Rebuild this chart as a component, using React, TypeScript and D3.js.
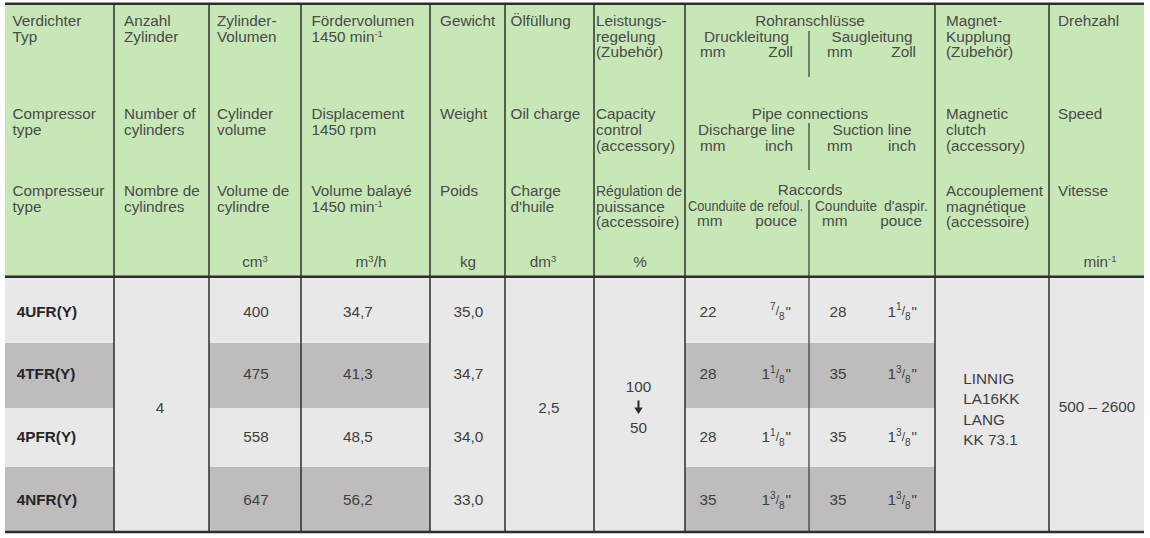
import React from "react";
import * as d3 from "d3";

// ---------- data ----------
const models = ["4UFR(Y)", "4TFR(Y)", "4PFR(Y)", "4NFR(Y)"];
const cylinders = "4";
const cylVolume = ["400", "475", "558", "647"];
const displacement = ["34,7", "41,3", "48,5", "56,2"];
const weight = ["35,0", "34,7", "34,0", "33,0"];
const oilCharge = "2,5";
const capacityFrom = "100";
const capacityTo = "50";
const dischargeMm = ["22", "28", "28", "35"];
const dischargeInch: [string, string, string][] = [["", "7", "8"], ["1", "1", "8"], ["1", "1", "8"], ["1", "3", "8"]];
const suctionMm = ["28", "35", "35", "35"];
const suctionInch: [string, string, string][] = [["1", "1", "8"], ["1", "3", "8"], ["1", "3", "8"], ["1", "3", "8"]];
const clutch = ["LINNIG", "LA16KK", "LANG", "KK 73.1"];
const speed = "500 – 2600";

// ---------- layout / style ----------
const W = 1150, H = 538;
const LEFT = 5, RIGHT = 1144;
const TOP = 3.7, HEAD_BOTTOM = 276.7, BOTTOM = 532;
const colLines = [114, 209, 301, 430, 505, 594, 685, 935, 1049];
const rowEdges = [278, 343, 408, 467, 532];
const stripedCols: [number, number][] = [[LEFT, 114], [209, 301], [301, 430], [685, 935]];
const GREEN = "#c7e7b7";
const LIGHT = "#e8e8e8";
const DARK = "#bebcbc";
const LINE = "#2e2e2e";
const HEAD_TXT = "#4a4a4a";
const BODY_TXT = "#3e3e3e";
const FONT = "'Liberation Sans', Arial, Helvetica, sans-serif";
const FS = 15.3;
const LH = 15.65;
const blockY = [26, 119.3, 196];
const unitY = 266.7;

const rowY = d3.scalePoint<string>().domain(models).range([316.7, 505]);
const midY = 412.7;

type Line = string | { t: string; w?: number; sup?: string; after?: string };

const headerCols: { x: number; blocks: Line[][] }[] = [
  { x: 12.5, blocks: [["Verdichter", "Typ"], ["Compressor", "type"], ["Compresseur", "type"]] },
  { x: 124, blocks: [["Anzahl", "Zylinder"], ["Number of", "cylinders"], ["Nombre de", "cylindres"]] },
  { x: 217, blocks: [["Zylinder-", "Volumen"], ["Cylinder", "volume"], ["Volume de", "cylindre"]] },
  { x: 311.5, blocks: [["Fördervolumen", { t: "1450 min", sup: "-1" }], ["Displacement", "1450 rpm"], ["Volume balayé", { t: "1450 min", sup: "-1" }]] },
  { x: 440, blocks: [["Gewicht"], ["Weight"], ["Poids"]] },
  { x: 510.5, blocks: [["Ölfüllung"], ["Oil charge"], ["Charge", "d'huile"]] },
  { x: 596, blocks: [["Leistungs-", "regelung", "(Zubehör)"], ["Capacity", "control", "(accessory)"], [{ t: "Régulation de", w: 86 }, "puissance", "(accessoire)"]] },
  { x: 946, blocks: [["Magnet-", "Kupplung", "(Zubehör)"], ["Magnetic", "clutch", "(accessory)"], ["Accouplement", "magnétique", "(accessoire)"]] },
  { x: 1058, blocks: [["Drehzahl"], ["Speed"], ["Vitesse"]] },
];

const units: { x: number; t: string; sup?: string; after?: string }[] = [
  { x: 255, t: "cm", sup: "3" },
  { x: 371, t: "m", sup: "3", after: "/h" },
  { x: 468, t: "kg" },
  { x: 543, t: "dm", sup: "3" },
  { x: 640, t: "%" },
  { x: 1100, t: "min", sup: "-1" },
];

const pipeBlocks = [
  { title: "Rohranschlüsse", left: "Druckleitung", right: "Saugleitung", mm: "mm", inch: "Zoll", cond: false },
  { title: "Pipe connections", left: "Discharge line", right: "Suction line", mm: "mm", inch: "inch", cond: false },
  { title: "Raccords", left: "Counduite de refoul.", right: "Counduite", right2: "d'aspir.", mm: "mm", inch: "pouce", cond: true },
];

function Sup({ t, sup, after }: { t: string; sup?: string; after?: string }) {
  return (
    <>
      <tspan>{t}</tspan>
      {sup && <tspan fontSize={9.5} dy={-5}>{sup}</tspan>}
      {sup && after && <tspan dy={5} fontSize={FS}>{after}</tspan>}
    </>
  );
}

function Frac({ x, y, f }: { x: number; y: number; f: [string, string, string] }) {
  return (
    <text x={x} y={y} textAnchor="end" fontSize={FS} fill={BODY_TXT}>
      {f[0] && <tspan>{f[0]}</tspan>}
      <tspan fontSize={10} dy={-6.5}>{f[1]}</tspan>
      <tspan fontSize={12} dy={5}>/</tspan>
      <tspan fontSize={10} dy={5}>{f[2]}</tspan>
      <tspan fontSize={FS} dy={-3.5} dx={1}>"</tspan>
    </text>
  );
}

export default function App() {
  const rows = models.map((m, i) => ({ i, y0: rowEdges[i], y1: rowEdges[i + 1] }));
  return (
    <svg width={W} height={H} style={{ position: "absolute", left: 0, top: 0, background: "#fff" }} fontFamily={FONT}>
      {/* header background */}
      <rect x={LEFT} y={TOP} width={RIGHT - LEFT} height={HEAD_BOTTOM - TOP} fill={GREEN} />
      {/* body background */}
      <rect x={LEFT} y={HEAD_BOTTOM} width={RIGHT - LEFT} height={BOTTOM - HEAD_BOTTOM} fill={LIGHT} />
      {rows.filter((r) => r.i % 2 === 1).map((r) =>
        stripedCols.map(([a, b], k) => (
          <rect key={`${r.i}-${k}`} x={a} y={r.y0} width={b - a} height={r.y1 - r.y0} fill={DARK} />
        ))
      )}

      {/* header text */}
      <g fontSize={FS} fill={HEAD_TXT}>
        {headerCols.map((c, ci) =>
          c.blocks.map((b, bi) =>
            b.map((ln, li) => {
              const y = blockY[bi] + li * LH;
              if (typeof ln === "string") return <text key={`${ci}-${bi}-${li}`} x={c.x} y={y}>{ln}</text>;
              return (
                <text key={`${ci}-${bi}-${li}`} x={c.x} y={y}
                  textLength={ln.w} lengthAdjust={ln.w ? "spacingAndGlyphs" : undefined}>
                  {ln.sup ? <Sup t={ln.t} sup={ln.sup} after={ln.after} /> : ln.t}
                </text>
              );
            })
          )
        )}
        {units.map((u, i) => (
          <text key={i} x={u.x} y={unitY} textAnchor="middle"><Sup t={u.t} sup={u.sup} after={u.after} /></text>
        ))}
        {pipeBlocks.map((p, i) => {
          const y = blockY[i] + (i === 2 ? -1 : 0);
          return (
            <g key={i}>
              <text x={810} y={y} textAnchor="middle">{p.title}</text>
              {p.cond ? (
                <>
                  <text x={688} y={y + LH} textLength={115} lengthAdjust="spacingAndGlyphs">{p.left}</text>
                  <text x={815} y={y + LH} textLength={62} lengthAdjust="spacingAndGlyphs">{p.right}</text>
                  <text x={928} y={y + LH} textAnchor="end" textLength={44} lengthAdjust="spacingAndGlyphs">{p.right2}</text>
                </>
              ) : (
                <>
                  <text x={746.5} y={y + LH} textAnchor="middle">{p.left}</text>
                  <text x={872} y={y + LH} textAnchor="middle">{p.right}</text>
                </>
              )}
              <text x={i === 2 ? 697 : 700} y={y + 2 * LH}>{p.mm}</text>
              <text x={i === 2 ? 797 : 793} y={y + 2 * LH} textAnchor="end">{p.inch}</text>
              <text x={i === 2 ? 822 : 827} y={y + 2 * LH}>{p.mm}</text>
              <text x={i === 2 ? 922 : 916} y={y + 2 * LH} textAnchor="end">{p.inch}</text>
            </g>
          );
        })}
      </g>

      {/* header pipe dividers */}
      <g stroke="#444" strokeWidth={1.3}>
        <line x1={809} x2={809} y1={31} y2={77} />
        <line x1={809} x2={809} y1={123} y2={170} />
        <line x1={809} x2={809} y1={200} y2={BOTTOM} />
      </g>

      {/* body text */}
      <g fontSize={FS} fill={BODY_TXT}>
        {models.map((m, i) => {
          const y = rowY(m)!;
          return (
            <g key={m}>
              <text x={16.7} y={y} fontWeight="bold" fill="#262626">{m}</text>
              <text x={256} y={y} textAnchor="middle">{cylVolume[i]}</text>
              <text x={358} y={y} textAnchor="middle">{displacement[i]}</text>
              <text x={468.5} y={y} textAnchor="middle">{weight[i]}</text>
              <text x={708} y={y} textAnchor="middle">{dischargeMm[i]}</text>
              <Frac x={791} y={y} f={dischargeInch[i]} />
              <text x={838} y={y} textAnchor="middle">{suctionMm[i]}</text>
              <Frac x={917} y={y} f={suctionInch[i]} />
            </g>
          );
        })}
        <text x={160} y={midY} textAnchor="middle">{cylinders}</text>
        <text x={549} y={midY} textAnchor="middle">{oilCharge}</text>
        <text x={638.5} y={391.7} textAnchor="middle">{capacityFrom}</text>
        <text x={638.5} y={433.3} textAnchor="middle">{capacityTo}</text>
        {clutch.map((c, i) => (
          <text key={c} x={963.3} y={383.5 + i * 20.5}>{c}</text>
        ))}
        <text x={1097} y={411.7} textAnchor="middle">{speed}</text>
      </g>
      {/* arrow */}
      <g stroke="#2a2a2a" fill="#2a2a2a">
        <line x1={638.5} x2={638.5} y1={400.5} y2={409} strokeWidth={2} />
        <path d="M634.3,407.5 L642.7,407.5 L638.5,414 Z" stroke="none" />
      </g>

      {/* grid lines */}
      <g stroke={LINE}>
        {colLines.map((x) => (
          <line key={x} x1={x} x2={x} y1={TOP} y2={BOTTOM} strokeWidth={1.5} />
        ))}
        <line x1={LEFT} x2={RIGHT} y1={TOP} y2={TOP} strokeWidth={2.6} />
        <line x1={LEFT} x2={RIGHT} y1={HEAD_BOTTOM} y2={HEAD_BOTTOM} strokeWidth={2.6} />
        <line x1={LEFT} x2={RIGHT} y1={BOTTOM} y2={BOTTOM} strokeWidth={2.6} />
      </g>
    </svg>
  );
}
